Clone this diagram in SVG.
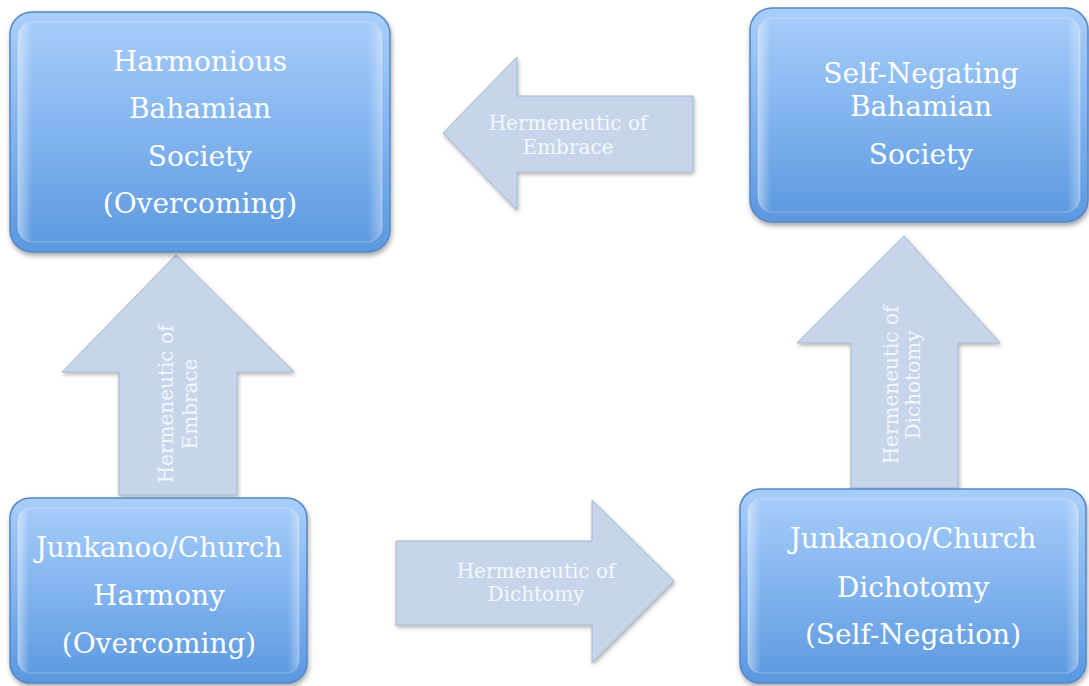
<svg xmlns="http://www.w3.org/2000/svg" width="1089" height="686" viewBox="0 0 1089 686">
<defs>
<linearGradient id="boxg" x1="0" y1="0" x2="0" y2="1">
<stop offset="0" stop-color="#a9cefa"/>
<stop offset="0.5" stop-color="#82b4ef"/>
<stop offset="1" stop-color="#5b98df"/>
</linearGradient>
<linearGradient id="edgeg" x1="0" y1="0" x2="1" y2="0">
<stop offset="0" stop-color="#ffffff" stop-opacity="0.45"/>
<stop offset="0.04" stop-color="#ffffff" stop-opacity="0"/>
<stop offset="0.96" stop-color="#ffffff" stop-opacity="0"/>
<stop offset="1" stop-color="#ffffff" stop-opacity="0.35"/>
</linearGradient>
<filter id="sh" x="-10%" y="-10%" width="125%" height="130%">
<feDropShadow dx="1" dy="3" stdDeviation="2.5" flood-color="#000" flood-opacity="0.35"/>
</filter>
<filter id="ash" x="-10%" y="-10%" width="125%" height="130%">
<feDropShadow dx="1" dy="2" stdDeviation="2" flood-color="#000" flood-opacity="0.3"/>
</filter>
</defs>
<style>
.box{fill:url(#boxg);stroke:#5486c6;stroke-width:1.5;filter:url(#sh)}
.bev{fill:url(#edgeg);stroke:#ffffff;stroke-opacity:0.18;stroke-width:1.5}
.bt{font-family:"DejaVu Serif","Liberation Serif",serif;font-size:28px;fill:#ffffff;text-anchor:middle}
.arr{fill:#c6d5ea;stroke:#a6b6cc;stroke-width:1;filter:url(#ash)}
.at{font-family:"DejaVu Serif","Liberation Serif",serif;font-size:20px;fill:#f4f7fc;text-anchor:middle}
</style>
<rect width="1089" height="686" fill="#ffffff"/>
<g id="connectors">
<g id="arrow-embrace-left">
<polygon class="arr" points="443,133 517,57 517,96 693,96 693,172 517,172 517,210"/>
<text class="at" x="568" y="130">Hermeneutic of<tspan x="568" y="154">Embrace</tspan></text>
</g>
<g id="arrow-embrace-up">
<polygon class="arr" points="176,255 294,372 237,372 237,495 119,495 119,372 62,372"/>
<text class="at" transform="translate(173,404) rotate(-90)" x="0" y="0">Hermeneutic of<tspan x="0" y="24">Embrace</tspan></text>
</g>
<g id="arrow-dichotomy-right">
<polygon class="arr" points="674,581 592,500 592,541 396,541 396,625 592,625 592,663"/>
<text class="at" x="536" y="578">Hermeneutic of<tspan x="536" y="601">Dichtomy</tspan></text>
</g>
<g id="arrow-dichotomy-up">
<polygon class="arr" points="904,236 1000,343 958,343 958,488 851,488 851,343 797,343"/>
<text class="at" transform="translate(898,385) rotate(-90)" x="0" y="0">Hermeneutic of<tspan x="0" y="22">Dichotomy</tspan></text>
</g>
</g>
<g id="node-harmonious-society">
<rect class="box" x="10" y="12" width="380" height="240" rx="22"/>
<rect class="bev" x="18" y="22" width="364" height="220" rx="15"/>
<text class="bt" x="200" y="71">Harmonious<tspan x="200" y="118">Bahamian</tspan><tspan x="200" y="166">Society</tspan><tspan x="200" y="213">(Overcoming)</tspan></text>
</g>
<g id="node-self-negating-society">
<rect class="box" x="750" y="8" width="338" height="214" rx="22"/>
<rect class="bev" x="758" y="18" width="322" height="194" rx="15"/>
<text class="bt" x="921" y="83">Self-Negating<tspan x="921" y="116">Bahamian</tspan><tspan x="921" y="164">Society</tspan></text>
</g>
<g id="node-junkanoo-harmony">
<rect class="box" x="10" y="498" width="297" height="185" rx="20"/>
<rect class="bev" x="18" y="508" width="281" height="165" rx="13"/>
<text class="bt" x="159" y="557">Junkanoo/Church<tspan x="159" y="605">Harmony</tspan><tspan x="159" y="653">(Overcoming)</tspan></text>
</g>
<g id="node-junkanoo-dichotomy">
<rect class="box" x="740" y="489" width="346" height="194" rx="20"/>
<rect class="bev" x="748" y="499" width="330" height="174" rx="13"/>
<text class="bt" x="913" y="548">Junkanoo/Church<tspan x="913" y="597">Dichotomy</tspan><tspan x="913" y="644">(Self-Negation)</tspan></text>
</g>
</svg>
